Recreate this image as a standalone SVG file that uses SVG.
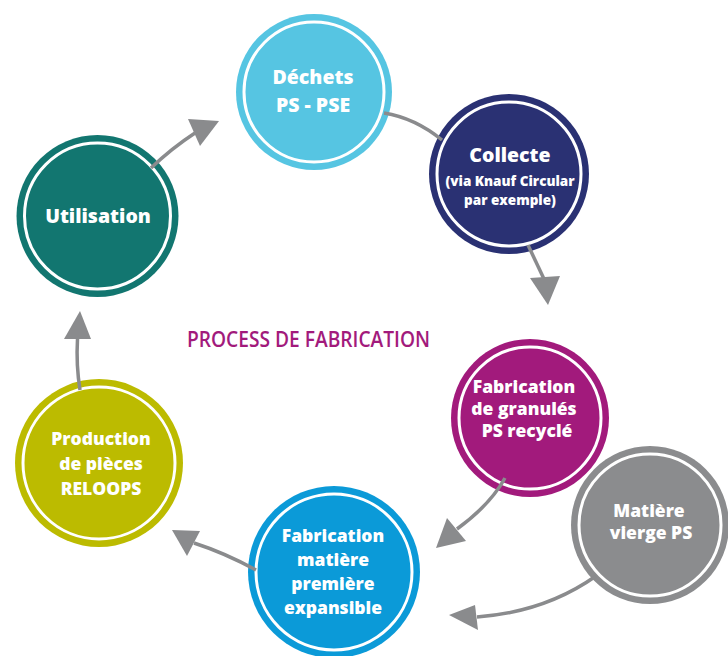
<svg xmlns="http://www.w3.org/2000/svg" width="728" height="656" viewBox="0 0 728 656">
<style>
.ring{fill:none;stroke:#ffffff;stroke-width:3}
.lbl{font-family:"Open Sans","Liberation Sans",sans-serif;font-weight:800;fill:#ffffff;text-anchor:middle}
.con{fill:none;stroke:#8a8b8d;stroke-width:3.5}
.head{fill:#8a8b8d}
.title{font-family:"Open Sans","Liberation Sans",sans-serif;font-weight:600;fill:#a21a7c}
</style>
<rect width="728" height="656" fill="#ffffff"/>
<g id="dechets">
<circle cx="314" cy="92" r="78" fill="#56c5e2"/>
<circle class="ring" cx="314" cy="92" r="70"/>
<text class="lbl" x="313" y="84" font-size="19.5">Déchets</text>
<text class="lbl" x="313" y="112" font-size="19.5">PS - PSE</text>
</g>
<g id="collecte">
<circle cx="509" cy="174" r="80" fill="#2a3173"/>
<circle class="ring" cx="509" cy="174" r="72"/>
<text class="lbl" x="510" y="162" font-size="19.5">Collecte</text>
<text class="lbl" x="510" y="186" font-size="13.5">(via Knauf Circular</text>
<text class="lbl" x="510" y="205" font-size="13.5">par exemple)</text>
</g>
<g id="utilisation">
<circle cx="97.5" cy="216" r="81" fill="#127670"/>
<circle class="ring" cx="97.5" cy="216" r="73"/>
<text class="lbl" x="98" y="223" font-size="19.5">Utilisation</text>
</g>
<g id="granules">
<circle cx="530" cy="418" r="79" fill="#a21a7c"/>
<circle class="ring" cx="530" cy="418" r="71"/>
<text class="lbl" x="524" y="393" font-size="17.5">Fabrication</text>
<text class="lbl" x="524" y="415" font-size="17.5">de granulés</text>
<text class="lbl" x="527" y="437" font-size="17.5">PS recyclé</text>
</g>
<g id="vierge">
<circle cx="650" cy="525" r="79" fill="#8b8c8e"/>
<circle class="ring" cx="650" cy="525" r="71"/>
<text class="lbl" x="649" y="517" font-size="17.5">Matière</text>
<text class="lbl" x="651" y="539" font-size="17.5">vierge PS</text>
</g>
<g id="fabmatiere">
<circle cx="334" cy="572" r="86" fill="#0b9ad8"/>
<circle class="ring" cx="334" cy="572" r="78"/>
<text class="lbl" x="333" y="542" font-size="17.5">Fabrication</text>
<text class="lbl" x="333" y="566" font-size="17.5">matière</text>
<text class="lbl" x="333" y="590" font-size="17.5">première</text>
<text class="lbl" x="333" y="614" font-size="17.5">expansible</text>
</g>
<g id="production">
<circle cx="99" cy="463" r="84" fill="#bcbb00"/>
<circle class="ring" cx="99" cy="463" r="76"/>
<text class="lbl" x="101" y="445" font-size="17.5">Production</text>
<text class="lbl" x="101" y="470" font-size="17.5">de pièces</text>
<text class="lbl" x="101" y="495" font-size="17.5">RELOOPS</text>
</g>
<g id="titre">
<text class="title" x="187" y="347" font-size="21" textLength="243" lengthAdjust="spacingAndGlyphs">PROCESS DE FABRICATION</text>
</g>
<g id="connectors">
<path class="con" d="M151,168 Q172,148 195,133"/>
<polygon class="head" points="188,119 219,121 200,146"/>
<path class="con" d="M384,113 Q415,118 442,140"/>
<path class="con" d="M528,245 L544,279"/>
<polygon class="head" points="530,278 560,276 548,305"/>
<path class="con" d="M505,478 Q490,505 457,529"/>
<polygon class="head" points="447,518 466,541 436,548"/>
<path class="con" d="M596,576 Q545,612 477,617"/>
<polygon class="head" points="475,605 478,630 449,615"/>
<path class="con" d="M256,570 Q225,553 194,543"/>
<polygon class="head" points="172,530 200,531 187,556"/>
<path class="con" d="M80,390 Q76,365 77.5,339"/>
<polygon class="head" points="80,311 64,339 91,339"/>
</g>
</svg>
